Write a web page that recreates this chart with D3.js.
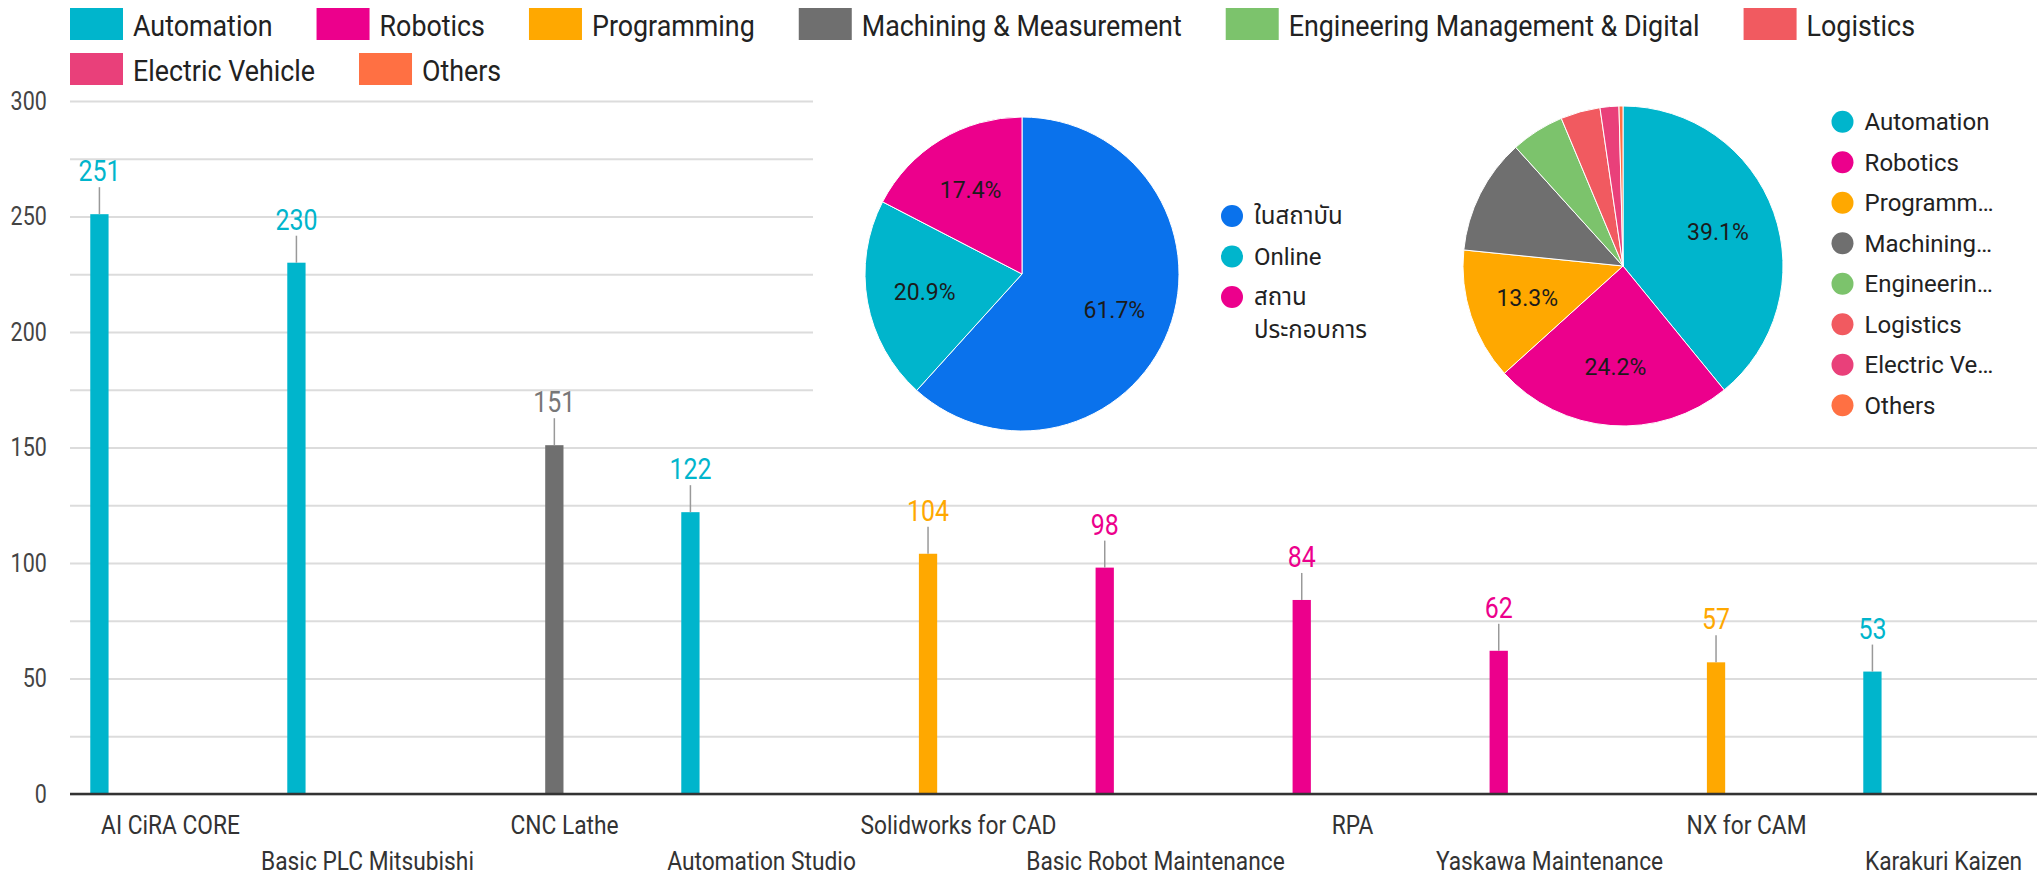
<!DOCTYPE html>
<html>
<head>
<meta charset="utf-8">
<script src="https://cdn.jsdelivr.net/npm/d3@7"></script>
<style>
  body { margin: 0; background: #fff; }
  svg { display: block; font-family: Roboto, "Noto Sans", "Noto Sans Thai", sans-serif; }
</style>
</head>
<body>
<svg id="chart" width="2037" height="877"></svg>
<script>
// top courses (bar chart)
const courses = ["AI CiRA CORE", "Basic PLC Mitsubishi", "CNC Lathe", "Automation Studio", "Solidworks for CAD",
  "Basic Robot Maintenance", "RPA", "Yaskawa Maintenance", "NX for CAM", "Karakuri Kaizen"];
const courseGroup = ["Automation", "Automation", "Machining & Measurement", "Automation", "Programming",
  "Robotics", "Robotics", "Robotics", "Programming", "Automation"];
const students = [251, 230, 151, 122, 104, 98, 84, 62, 57, 53];
const yTicks = [0, 50, 100, 150, 200, 250, 300];

// course groups (legend + right pie)
const groups = ["Automation", "Robotics", "Programming", "Machining & Measurement",
  "Engineering Management & Digital", "Logistics", "Electric Vehicle", "Others"];
const groupColors = ["#00b5cc", "#ec008c", "#ffa800", "#6f6f6f", "#7cc36c", "#f15a60", "#e9407a", "#ff7043"];
const groupShort = ["Automation", "Robotics", "Programm…", "Machining…", "Engineerin…", "Logistics", "Electric Ve…", "Others"];
const groupShare = [39.1, 24.2, 13.3, 11.7, 5.4, 4.0, 1.9, 0.4];

// training place (left pie)
const places = ["ในสถาบัน", "Online", "สถาน\nประกอบการ"];
const placeColors = ["#0a72ec", "#00b5cc", "#ec008c"];
const placeShare = [61.7, 20.9, 17.4];

const W = 2037, H = 877;
const SQ = 0.86;    // narrow text: values, y ticks
const SQ2 = 0.91;   // category labels
const SQL = 0.895;  // top legend
const svg = d3.select("#chart");
const color = d3.scaleOrdinal().domain(groups).range(groupColors);

const y = d3.scaleLinear().domain([0, 300]).range([794, 101]);
const x0 = d3.scaleBand().domain(courses).range([72, 2042]);
const x1 = d3.scaleBand().domain(groups).range([0, x0.bandwidth()]).paddingInner(0.1).paddingOuter(0.9);

// grid
const grid = svg.append("g").attr("transform", "translate(70,0)")
  .call(d3.axisLeft(y).tickValues(d3.range(0, 301, 25)).tickSize(-(W - 70)).tickFormat(""));
grid.select(".domain").remove();
grid.selectAll("line").attr("stroke", "#dcdcdc").attr("stroke-width", 2);

// y labels
const gy = svg.append("g").attr("transform", "translate(70,0)")
  .call(d3.axisLeft(y).tickValues(yTicks).tickSize(0).tickPadding(27));
gy.select(".domain").remove();
gy.selectAll("text").attr("font-size", 25).attr("fill", "#444").attr("font-family", "Roboto")
  .attr("transform", `scale(${SQ},1)`);

// white panel behind the pies
svg.append("rect").attr("x", 813).attr("y", 92).attr("width", W - 813).attr("height", 352).attr("fill", "#fff");

// bars
const bars = svg.append("g").selectAll("g").data(courses).join("g")
  .attr("transform", d => `translate(${x0(d)},0)`);
bars.append("rect")
  .attr("x", (d, i) => x1(courseGroup[i]))
  .attr("y", (d, i) => y(students[i]))
  .attr("width", x1.bandwidth())
  .attr("height", (d, i) => y(0) - y(students[i]))
  .attr("fill", (d, i) => color(courseGroup[i]));
bars.append("line")
  .attr("x1", (d, i) => x1(courseGroup[i]) + x1.bandwidth() / 2)
  .attr("x2", (d, i) => x1(courseGroup[i]) + x1.bandwidth() / 2)
  .attr("y1", (d, i) => y(students[i]))
  .attr("y2", (d, i) => y(students[i]) - 27)
  .attr("stroke", "#999").attr("stroke-width", 1.5);
bars.append("text")
  .attr("transform", (d, i) => `translate(${x1(courseGroup[i]) + x1.bandwidth() / 2},${y(students[i]) - 33}) scale(${SQ},1)`)
  .attr("text-anchor", "middle").attr("font-size", 29)
  .attr("fill", (d, i) => courseGroup[i] === "Machining & Measurement" ? "#777" : color(courseGroup[i]))
  .text((d, i) => students[i]);

// x axis
const gx = svg.append("g").attr("transform", `translate(0,${y(0)})`)
  .call(d3.axisBottom(x0).tickSize(0));
gx.select(".domain").attr("stroke", "#333").attr("stroke-width", 2.5).attr("d", `M70,0H${W}`);
gx.selectAll("text").attr("font-size", 25).attr("fill", "#333").attr("font-family", "Roboto")
  .attr("y", (d, i) => i % 2 ? 58 : 22)
  .attr("transform", `scale(${SQ2},1)`);

// top legend
const leg = svg.append("g");
let lx = 70, ly = 8;
groups.forEach((g, i) => {
  const item = leg.append("g");
  item.append("rect").attr("width", 53).attr("height", 32).attr("fill", groupColors[i]);
  const t = item.append("text").attr("transform", `translate(63,28) scale(${SQL},1)`)
    .attr("font-size", 30).attr("fill", "#222").text(g);
  const w = 63 + t.node().getComputedTextLength() * SQL;
  if (lx + w > W - 60) { lx = 70; ly += 45; }
  item.attr("transform", `translate(${lx},${ly})`);
  lx += w + 44;
});

// pies
function drawPie(cx, cy, r, values, colors, minLabel) {
  const arcs = d3.pie().sort(null).value(d => d)(values);
  const arc = d3.arc().innerRadius(0).outerRadius(r);
  const lab = d3.arc().innerRadius(r * 0.63).outerRadius(r * 0.63);
  const g = svg.append("g").attr("transform", `translate(${cx},${cy})`);
  g.selectAll("path").data(arcs).join("path")
    .attr("d", arc).attr("fill", (d, i) => colors[i]).attr("stroke", "#fff").attr("stroke-width", 1);
  g.selectAll("text").data(arcs.filter(d => d.data >= minLabel)).join("text")
    .attr("transform", d => `translate(${lab.centroid(d)})`)
    .attr("text-anchor", "middle").attr("dy", "0.35em")
    .attr("font-size", 23).attr("fill", "#1b1b1b")
    .text(d => d.data.toFixed(1) + "%");
}
drawPie(1022, 274, 157, placeShare, placeColors, 12);
drawPie(1623, 266, 160, groupShare, groupColors, 12);

// left pie legend
let py = 216;
places.forEach((p, i) => {
  svg.append("circle").attr("cx", 1232).attr("cy", py).attr("r", 11).attr("fill", placeColors[i]);
  const lines = p.split("\n");
  lines.forEach((l, j) => {
    svg.append("text").attr("x", 1254).attr("y", py + j * 33).attr("dy", "0.35em")
      .attr("font-size", 24).attr("fill", "#222").text(l);
  });
  py += 40.5 + (lines.length - 1) * 33;
});

// right pie legend
groupShort.forEach((g, i) => {
  const cy = 121.7 + i * 40.5;
  svg.append("circle").attr("cx", 1842.5).attr("cy", cy).attr("r", 11).attr("fill", groupColors[i]);
  svg.append("text").attr("x", 1864.6).attr("y", cy).attr("dy", "0.35em")
    .attr("font-size", 24).attr("fill", "#222").text(g);
});
</script>
</body>
</html>
